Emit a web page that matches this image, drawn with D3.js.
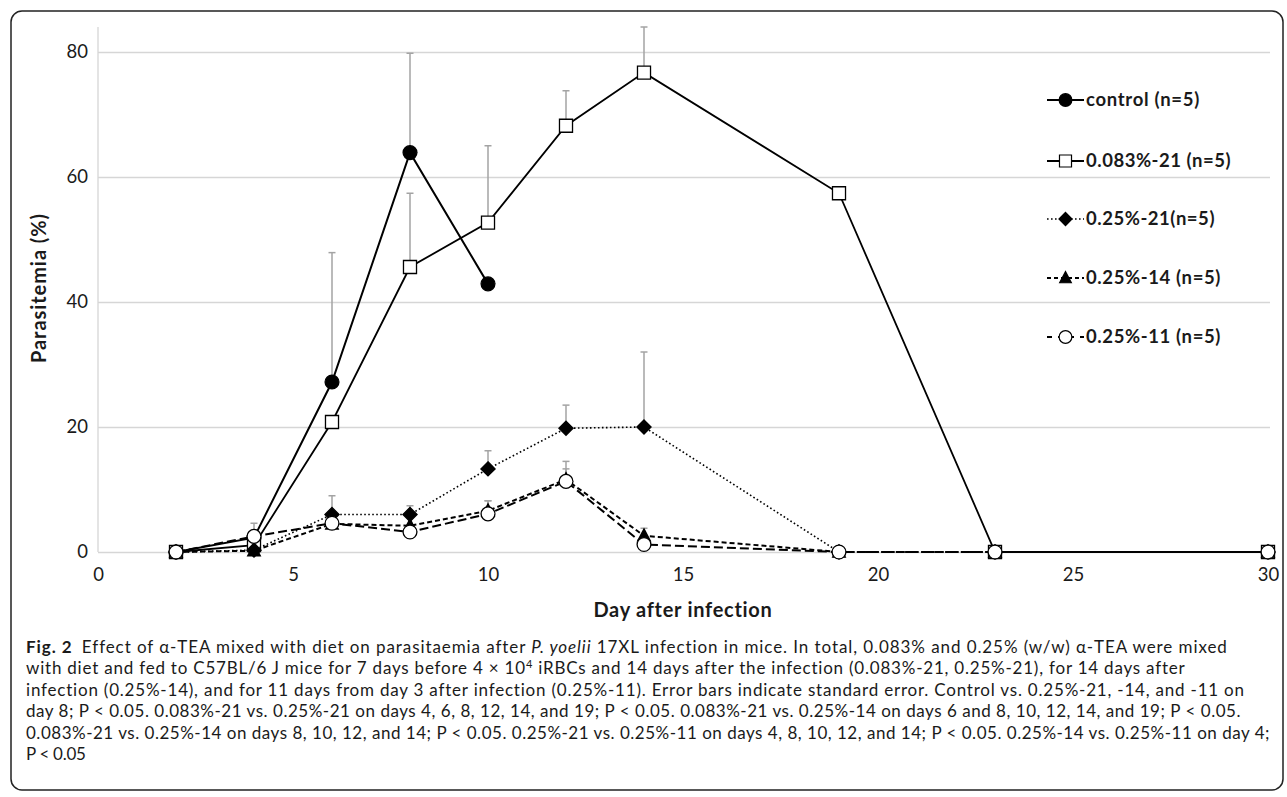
<!DOCTYPE html>
<meta charset="utf-8">
<script src="https://d3js.org/d3.v7.min.js"></script>
<style>
  body { margin: 0; background: #fff; }
  text { font-family: Lato, "Open Sans", sans-serif; fill: #1a1a1a; }
</style>
<div id="chart"></div>
<script>

// data
var days = [2, 4, 6, 8, 10, 12, 14, 19, 23, 30];

var control   = [0, 2.3, 27.2, 63.9, 42.9, null, null, null, null, null];
var controlSE = [0, 0, 20.7, 15.9, 0, null, null, null, null, null];

var pct083_21   = [0, 1.1, 20.8, 45.6, 52.7, 68.2, 76.7, 57.4, 0, 0];
var pct083_21SE = [0, 0, 0, 11.8, 12.3, 5.6, 7.3, 0, 0, 0];

var pct25_21   = [0, 0.3, 6.0, 6.0, 13.3, 19.8, 20.0, 0, 0, 0];
var pct25_21SE = [0, 0, 3.0, 1.4, 2.9, 3.7, 12.0, 0, 0, 0];

var pct25_14   = [0, 0.2, 4.5, 4.2, 6.6, 11.6, 2.6, 0, 0, 0];
var pct25_14SE = [0, 0, 0, 0, 1.6, 2.9, 1.2, 0, 0, 0];

var pct25_11   = [0, 2.5, 4.6, 3.2, 6.1, 11.3, 1.2, 0, 0, 0];
var pct25_11SE = [0, 2.1, 0, 0, 2.1, 2.0, 0, 0, 0, 0];

var seriesNames = ["control (n=5)", "0.083%-21 (n=5)", "0.25%-21(n=5)", "0.25%-14 (n=5)", "0.25%-11 (n=5)"];
var xTicks = [0, 5, 10, 15, 20, 25, 30];
var yTicks = [0, 20, 40, 60, 80];

var captionLines = [
  "Effect of α-TEA mixed with diet on parasitaemia after ",
  "with diet and fed to C57BL/6 J mice for 7 days before 4 × 10",
  "infection (0.25%-14), and for 11 days from day 3 after infection (0.25%-11). Error bars indicate standard error. Control vs. 0.25%-21, -14, and -11 on",
  "day 8; P < 0.05. 0.083%-21 vs. 0.25%-21 on days 4, 6, 8, 12, 14, and 19; P < 0.05. 0.083%-21 vs. 0.25%-14 on days 6 and 8, 10, 12, 14, and 19; P < 0.05.",
  "0.083%-21 vs. 0.25%-14 on days 8, 10, 12, and 14; P < 0.05. 0.25%-21 vs. 0.25%-11 on days 4, 8, 10, 12, and 14; P < 0.05. 0.25%-14 vs. 0.25%-11 on day 4;",
  "P < 0.05"
];

// squeeze/stretch a text to a measured width in the figure
function fit(t, width) {
  var n = t.text().length;
  var w = t.node().getComputedTextLength();
  t.attr("letter-spacing", (width - w) / n);
}

// custom marker shapes
var diamond = { draw: function(c, s) { var r = Math.sqrt(s) / 2 * 1.35; c.moveTo(0, -r); c.lineTo(r, 0); c.lineTo(0, r); c.lineTo(-r, 0); c.closePath(); } };
var triangle = { draw: function(c, s) { var h = Math.sqrt(s) * 1.05; c.moveTo(0, -h * 0.6); c.lineTo(h * 0.55, h * 0.45); c.lineTo(-h * 0.55, h * 0.45); c.closePath(); } };

var series = [
  { name: seriesNames[0], v: control,   se: controlSE,   sym: d3.symbolCircle, size: 150, fill: "#000", dash: null,      legDash: null,  w: 2 },
  { name: seriesNames[1], v: pct083_21, se: pct083_21SE, sym: d3.symbolSquare, size: 170, fill: "#fff", dash: null,      legDash: null,  w: 1.8 },
  { name: seriesNames[2], v: pct25_21,  se: pct25_21SE,  sym: diamond,         size: 110, fill: "#000", dash: "1.6,2.4", legDash: "1.6,2.4", w: 1.6 },
  { name: seriesNames[3], v: pct25_14,  se: pct25_14SE,  sym: triangle,        size: 120, fill: "#000", dash: "5,3",     legDash: "4,3", w: 2 },
  { name: seriesNames[4], v: pct25_11,  se: pct25_11SE,  sym: d3.symbolCircle, size: 150, fill: "#fff", dash: "9,4",     legDash: "5,6", w: 2 }
];
var legWidth = [114, 145, 129, 135, 135];

var W = 1287, H = 797;
var svg = d3.select("#chart").append("svg").attr("width", W).attr("height", H);

// frame
svg.append("rect")
  .attr("x", 11).attr("y", 11).attr("width", 1272).attr("height", 779)
  .attr("rx", 11).attr("fill", "none").attr("stroke", "#222").attr("stroke-width", 1.5);

var x = d3.scaleLinear().domain([0, 30]).range([98, 1268]);
var y = d3.scaleLinear().domain([0, 84]).range([552, 27]);

// gridlines + y labels
var gy = svg.append("g").attr("transform", "translate(98,0)")
  .call(d3.axisLeft(y).tickValues(yTicks).tickSize(-(1270 - 98)).tickPadding(10));
gy.select(".domain").remove();
gy.selectAll(".tick line").attr("stroke", "#d6d6d6").attr("stroke-width", 1.3);
gy.selectAll(".tick text").attr("font-size", 18.5).attr("fill", "#1a1a1a")
  .attr("font-family", "Lato, sans-serif");

// vertical axis line
svg.append("line").attr("x1", 98).attr("x2", 98).attr("y1", y(84)).attr("y2", y(0))
  .attr("stroke", "#d6d6d6").attr("stroke-width", 1.3);

// x labels
var gx = svg.append("g").attr("transform", "translate(0," + y(0) + ")")
  .call(d3.axisBottom(x).tickValues(xTicks).tickSize(0).tickPadding(16));
gx.select(".domain").remove();
gx.selectAll(".tick text").attr("font-size", 18.5).attr("fill", "#1a1a1a")
  .attr("font-family", "Lato, sans-serif");

// axis titles
var xt = svg.append("text").attr("x", 683).attr("y", 617).attr("text-anchor", "middle")
  .attr("font-size", 20).attr("font-weight", "bold").text("Day after infection");
fit(xt, 179);
var yt = svg.append("text").attr("transform", "translate(46,288) rotate(-90)").attr("text-anchor", "middle")
  .attr("font-size", 20).attr("font-weight", "bold").text("Parasitemia (%)");
fit(yt, 150);

var line = d3.line()
  .defined(function(d) { return d.v != null; })
  .x(function(d) { return x(d.day); })
  .y(function(d) { return y(d.v); });

series.forEach(function(s) {
  s.pts = days.map(function(d, i) { return { day: d, v: s.v[i], se: s.se[i] }; })
    .filter(function(p) { return p.v != null; });
});

// error bars (plus direction only)
series.forEach(function(s) {
  var g = svg.append("g");
  var eb = s.pts.filter(function(p) { return p.se > 0; });
  g.selectAll("line.v").data(eb).enter().append("line")
    .attr("x1", function(p) { return x(p.day); }).attr("x2", function(p) { return x(p.day); })
    .attr("y1", function(p) { return y(p.v); }).attr("y2", function(p) { return y(p.v + p.se); })
    .attr("stroke", "#a3a3a3").attr("stroke-width", 1.5);
  g.selectAll("line.c").data(eb).enter().append("line")
    .attr("x1", function(p) { return x(p.day) - 3.5; }).attr("x2", function(p) { return x(p.day) + 3.5; })
    .attr("y1", function(p) { return y(p.v + p.se); }).attr("y2", function(p) { return y(p.v + p.se); })
    .attr("stroke", "#a3a3a3").attr("stroke-width", 1.5);
});

// lines and markers
series.forEach(function(s) {
  svg.append("path").datum(s.pts).attr("d", line)
    .attr("fill", "none").attr("stroke", "#000").attr("stroke-width", s.w)
    .attr("stroke-dasharray", s.dash);
  svg.append("g").selectAll("path").data(s.pts).enter().append("path")
    .attr("transform", function(p) { return "translate(" + x(p.day) + "," + y(p.v) + ")"; })
    .attr("d", d3.symbol().type(s.sym).size(s.size))
    .attr("fill", s.fill).attr("stroke", "#000").attr("stroke-width", 1.3);
});

// legend
var legY = [100, 161, 219, 278, 337];
series.forEach(function(s, i) {
  var g = svg.append("g").attr("transform", "translate(1047," + legY[i] + ")");
  g.append("line").attr("x1", 0).attr("x2", 37).attr("y1", 0).attr("y2", 0)
    .attr("stroke", "#000").attr("stroke-width", s.w)
    .attr("stroke-dasharray", s.legDash);
  g.append("path").attr("transform", "translate(18.5,0)")
    .attr("d", d3.symbol().type(s.sym).size(s.size * 0.85))
    .attr("fill", s.fill).attr("stroke", "#000").attr("stroke-width", 1.2);
  var lt = g.append("text").attr("x", 39).attr("y", 0).attr("dy", "0.35em")
    .attr("font-size", 18.5).attr("font-weight", "bold").text(s.name);
  fit(lt, legWidth[i]);
});

// caption
var capX = 26, capY = [653, 674, 695.5, 717, 738.5, 760];
var capEnd = [1227, 1185, 1245, 1241, 1270, null];
var cap = svg.append("g").attr("font-size", 17).attr("fill", "#222");

var t0 = cap.append("text").attr("x", capX).attr("y", capY[0]);
t0.append("tspan").attr("font-weight", "bold").text("Fig. 2");
t0.append("tspan").text("\u2002" + captionLines[0]);
t0.append("tspan").attr("font-style", "italic").text("P. yoelii");
t0.append("tspan").text(" 17XL infection in mice. In total, 0.083% and 0.25% (w/w) α-TEA were mixed");

var t1 = cap.append("text").attr("x", capX).attr("y", capY[1]);
t1.append("tspan").text(captionLines[1]);
t1.append("tspan").attr("font-size", 11).attr("dy", -6).text("4");
t1.append("tspan").attr("dy", 6).text(" iRBCs and 14 days after the infection (0.083%-21, 0.25%-21), for 14 days after");

var texts = [t0, t1];
for (var i = 2; i < captionLines.length; i++) {
  texts.push(cap.append("text").attr("x", capX).attr("y", capY[i]).text(captionLines[i]));
}

texts.forEach(function(t, i) {
  if (capEnd[i] == null) { t.attr("letter-spacing", -0.3); return; }
  fit(t, capEnd[i] - capX);
});

</script>
